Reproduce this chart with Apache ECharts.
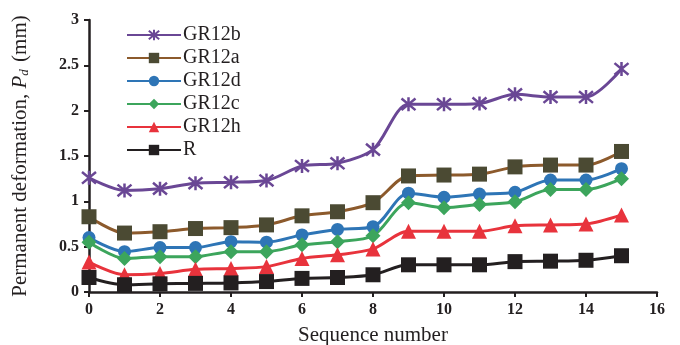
<!DOCTYPE html>
<html>
<head>
<meta charset="utf-8">
<script src="https://cdn.jsdelivr.net/npm/echarts@6/dist/echarts.min.js"></script>
<style>
  html, body { margin: 0; padding: 0; background: #fff; }
  #main { width: 680px; height: 345px; }
</style>
</head>
<body>
<div id="main"></div>
<script>
// sequence numbers 0..15
const sequence = [0, 1, 2, 3, 4, 5, 6, 7, 8, 9, 10, 11, 12, 13, 14, 15];

const gr12b = [1.26, 1.12, 1.14, 1.20, 1.21, 1.23, 1.39, 1.42, 1.57, 2.07, 2.07, 2.08, 2.18, 2.15, 2.15, 2.46];
const gr12a = [0.83, 0.65, 0.665, 0.70, 0.71, 0.74, 0.84, 0.885, 0.985, 1.28, 1.29, 1.30, 1.38, 1.40, 1.40, 1.55];
const gr12d = [0.60, 0.445, 0.49, 0.49, 0.555, 0.55, 0.63, 0.69, 0.72, 1.09, 1.045, 1.08, 1.10, 1.235, 1.235, 1.36];
const gr12c = [0.55, 0.37, 0.39, 0.39, 0.445, 0.445, 0.52, 0.555, 0.62, 0.985, 0.93, 0.965, 0.995, 1.13, 1.13, 1.25];
const gr12h = [0.33, 0.19, 0.205, 0.25, 0.26, 0.28, 0.37, 0.41, 0.475, 0.67, 0.67, 0.67, 0.73, 0.74, 0.75, 0.85];
const rBase = [0.16, 0.08, 0.09, 0.095, 0.10, 0.115, 0.15, 0.16, 0.19, 0.30, 0.30, 0.30, 0.335, 0.34, 0.35, 0.40];

const serif = '"Liberation Serif", "Times New Roman", serif';
const asterisk = 'path://M0,0L10,10M10,0L0,10M5,-1L5,11';

const pairs = (vals) => sequence.map((x, i) => [x, vals[i]]);

const makeSeries = (name, vals, lineColor, fill, symbol, size, extra) => Object.assign({
  name: name,
  type: 'line',
  smooth: 0.3,
  data: pairs(vals),
  symbol: symbol,
  symbolSize: size,
  lineStyle: { color: lineColor, width: 3 },
  itemStyle: { color: fill, borderColor: fill, borderWidth: 0 },
  z: 2
}, extra || {});

const chart = echarts.init(document.getElementById('main'));

chart.setOption({
  animation: false,
  backgroundColor: '#fff',
  grid: { left: 89, right: 23, top: 20, bottom: 53, outerBoundsMode: 'none', containLabel: false },
  legend: {
    orient: 'vertical',
    left: 121,
    top: 20,
    itemWidth: 54,
    itemHeight: 13,
    itemGap: 3,
    textStyle: { fontFamily: serif, fontSize: 20, color: '#231f20', padding: [0, 0, 0, -3] },
    data: ['GR12b', 'GR12a', 'GR12d', 'GR12c', 'GR12h', 'R']
  },
  xAxis: {
    type: 'value',
    min: 0,
    max: 16,
    interval: 2,
    name: 'Sequence number',
    nameLocation: 'middle',
    nameGap: 33,
    nameTextStyle: { fontFamily: serif, fontSize: 21, color: '#231f20' },
    axisLine: { onZero: false, lineStyle: { color: '#231f20', width: 2.5 } },
    axisTick: { inside: false, length: 5, lineStyle: { color: '#231f20', width: 2 } },
    axisLabel: { fontFamily: serif, fontSize: 16, fontWeight: 'bold', color: '#231f20', margin: 10 },
    splitLine: { show: false }
  },
  yAxis: {
    type: 'value',
    min: 0,
    max: 3,
    interval: 0.5,
    name: 'Permanent deformation, {i|P}{s|d} (mm)',
    nameLocation: 'middle',
    nameRotate: 90,
    nameGap: 58,
    nameTextStyle: {
      fontFamily: serif, fontSize: 21, color: '#231f20',
      rich: {
        i: { fontFamily: serif, fontSize: 21, fontStyle: 'italic', color: '#231f20' },
        s: { fontFamily: serif, fontSize: 13, fontStyle: 'italic', color: '#231f20', verticalAlign: 'bottom', padding: [8, 2, 0, 0] }
      }
    },
    axisLine: { show: true, lineStyle: { color: '#231f20', width: 2.5 } },
    axisTick: { show: true, inside: false, length: 5, lineStyle: { color: '#231f20', width: 2 } },
    axisLabel: { fontFamily: serif, fontSize: 16, fontWeight: 'bold', color: '#231f20', margin: 10 },
    splitLine: { show: false }
  },
  series: [
    makeSeries('GR12b', gr12b, '#6a4795', '#6a4795', asterisk, 14, {
      itemStyle: { color: 'none', borderColor: '#6a4795', borderWidth: 2.5 }
    }),
    makeSeries('GR12a', gr12a, '#8c5a2c', '#4b4a33', 'rect', 15),
    makeSeries('GR12d', gr12d, '#2e75b6', '#2e75b6', 'circle', 13),
    makeSeries('GR12c', gr12c, '#3ca55c', '#3ca55c', 'diamond', 15),
    makeSeries('GR12h', gr12h, '#e8333c', '#e8333c', 'triangle', 15),
    makeSeries('R', rBase, '#231f20', '#231f20', 'rect', 15)
  ]
});
</script>
</body>
</html>
